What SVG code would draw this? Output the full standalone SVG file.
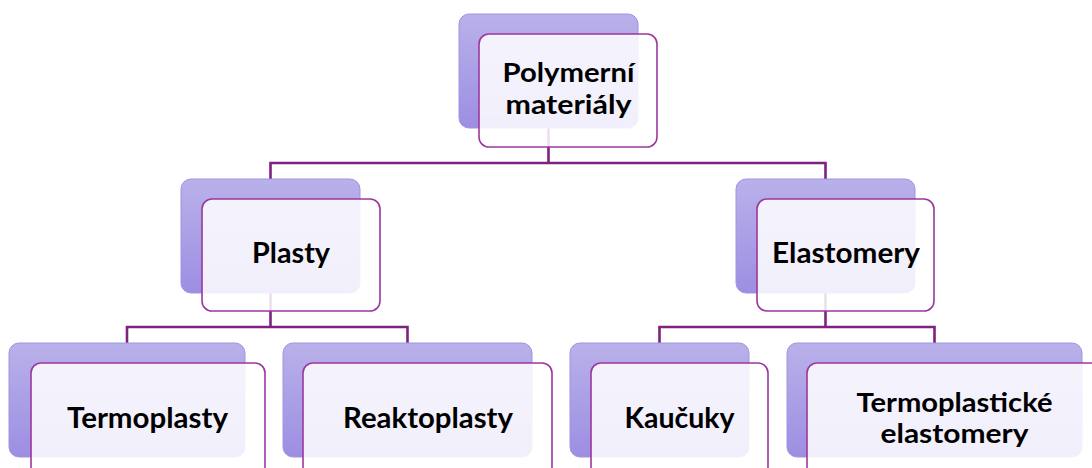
<svg xmlns="http://www.w3.org/2000/svg" width="1092" height="468" viewBox="0 0 1092 468">
<defs>
<linearGradient id="bg" x1="0" y1="0" x2="0" y2="1">
<stop offset="0" stop-color="#b9b1ea"/>
<stop offset="1" stop-color="#9d8ee2"/>
</linearGradient>
<style>
.back{fill:url(#bg);stroke:#a093e3;stroke-width:1}
.front{fill:#ffffff;fill-opacity:0.86;stroke:#9c379e;stroke-width:1.6}
.conn{fill:none;stroke:#7e2181;stroke-width:2.6}
.lbl{font-family:Lato,"Open Sans","Liberation Sans",sans-serif;font-weight:700;font-size:29px;fill:#000;text-anchor:middle}
.two{font-size:26px}
</style>
</defs>
<rect width="1092" height="468" fill="#ffffff"/>
<g id="connectors">
<path class="conn" d="M548.5 128V163M270.5 179V163H825.5V179"/>
<path class="conn" d="M270.5 293V327M127 343V327H407.5V343"/>
<path class="conn" d="M825.5 293V327M659.5 343V327H934.5V343"/>
</g>
<g id="polymerni">
<rect class="back" x="459" y="14" width="179" height="114" rx="10"/>
<rect class="front" x="479" y="34" width="178" height="113" rx="10"/>
<text class="lbl two" x="568.5" y="82" textLength="132" lengthAdjust="spacingAndGlyphs">Polymerní</text>
<text class="lbl two" x="568.5" y="114" textLength="126" lengthAdjust="spacingAndGlyphs">materiály</text>
</g>
<g id="plasty">
<rect class="back" x="181" y="179" width="179" height="114" rx="10"/>
<rect class="front" x="202" y="199" width="178" height="112" rx="10"/>
<text class="lbl" x="291" y="263" textLength="78" lengthAdjust="spacingAndGlyphs">Plasty</text>
</g>
<g id="elastomery">
<rect class="back" x="736" y="179" width="179" height="114" rx="10"/>
<rect class="front" x="757" y="199" width="177" height="112" rx="10"/>
<text class="lbl" x="846" y="263" textLength="148" lengthAdjust="spacingAndGlyphs">Elastomery</text>
</g>
<g id="termoplasty">
<rect class="back" x="9" y="343" width="236" height="114" rx="10"/>
<rect class="front" x="31" y="363" width="234" height="114" rx="10"/>
<text class="lbl" x="147.5" y="428" textLength="161" lengthAdjust="spacingAndGlyphs">Termoplasty</text>
</g>
<g id="reaktoplasty">
<rect class="back" x="283" y="343" width="249" height="114" rx="10"/>
<rect class="front" x="303" y="363" width="249" height="114" rx="10"/>
<text class="lbl" x="428" y="428" textLength="170" lengthAdjust="spacingAndGlyphs">Reaktoplasty</text>
</g>
<g id="kaucuky">
<rect class="back" x="570" y="343" width="179" height="114" rx="10"/>
<rect class="front" x="591" y="363" width="177" height="114" rx="10"/>
<text class="lbl" x="679.5" y="428" textLength="110" lengthAdjust="spacingAndGlyphs">Kaučuky</text>
</g>
<g id="termoplasticke">
<rect class="back" x="787" y="343" width="295" height="114" rx="10"/>
<rect class="front" x="807" y="363" width="295" height="114" rx="10"/>
<text class="lbl two" x="954.5" y="412" textLength="196" lengthAdjust="spacingAndGlyphs">Termoplastické</text>
<text class="lbl two" x="954.5" y="443" textLength="148" lengthAdjust="spacingAndGlyphs">elastomery</text>
</g>
</svg>
